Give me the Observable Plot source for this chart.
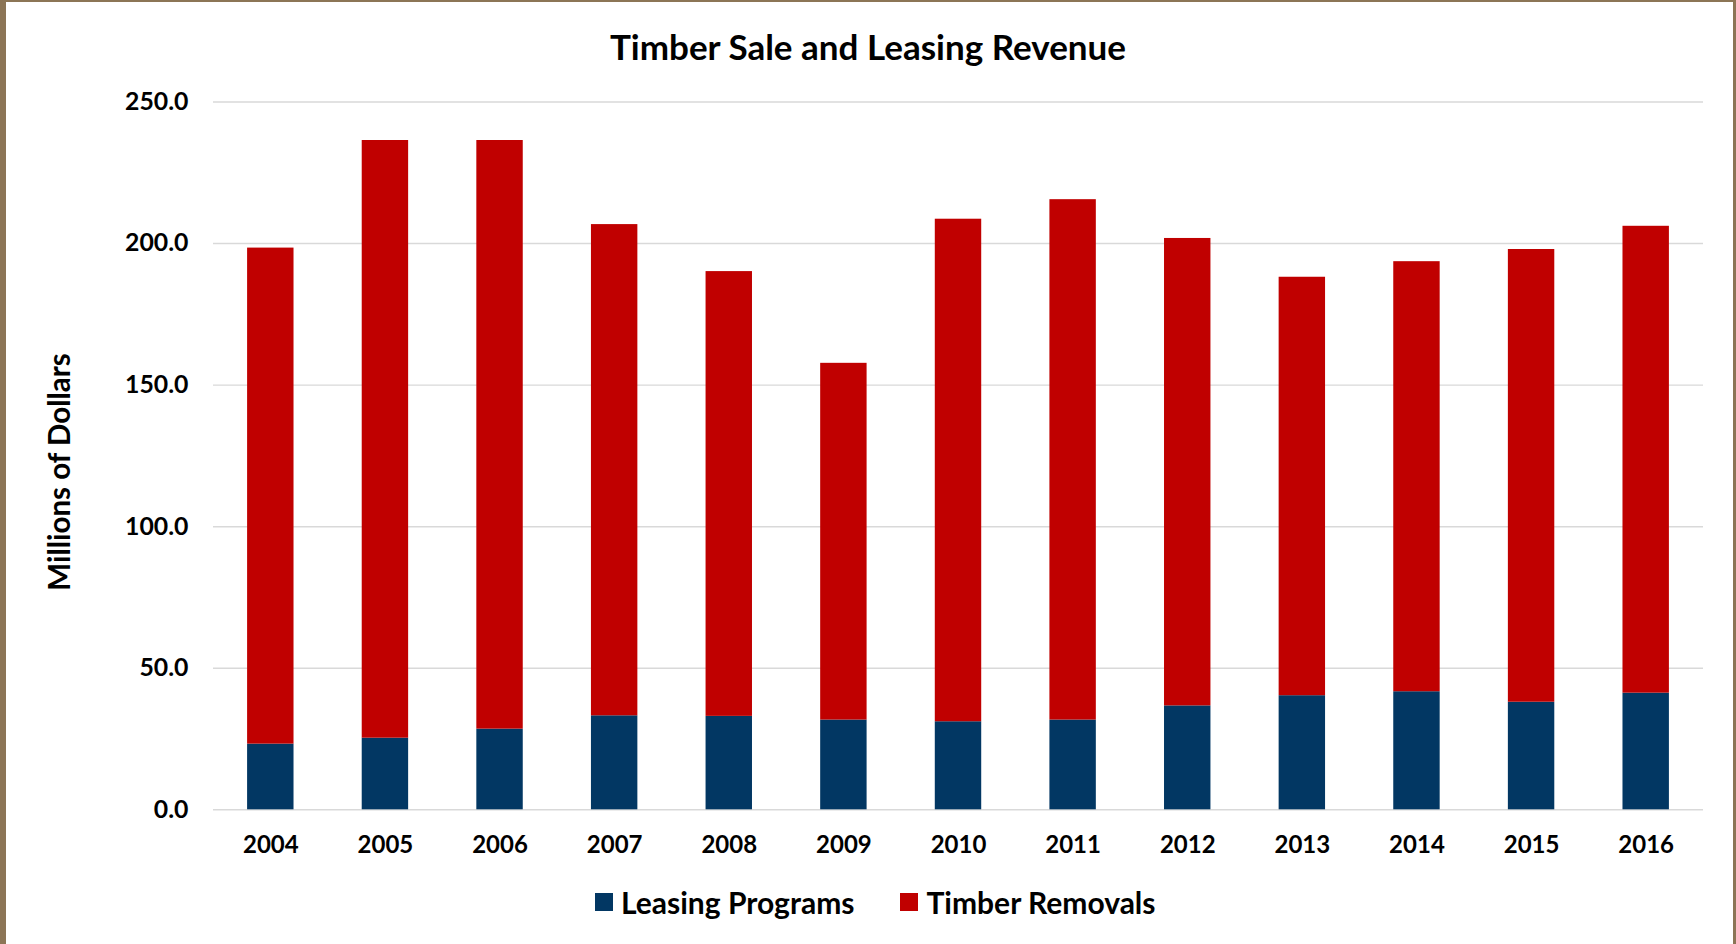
<!DOCTYPE html>
<html>
<head>
<meta charset="utf-8">
<script src="https://cdn.jsdelivr.net/npm/d3@7"></script>
<script src="https://cdn.jsdelivr.net/npm/@observablehq/plot@0.6"></script>
<style>
  html, body { margin: 0; padding: 0; background: #fff; }
  body { position: relative; width: 1736px; height: 944px; overflow: hidden; font-family: Lato, "Open Sans", sans-serif; font-weight: 700; color: #000; }
  #frame { position: absolute; left: 0; top: 0; width: 1736px; height: 944px; box-sizing: border-box;
           border-left: 6px solid #8C7556; border-top: 2px solid #8C7556; border-right: 3px solid #8C7556; pointer-events: none; z-index: 5; }
  #chart { position: absolute; left: 0; top: 0; }
  #title { position: absolute; left: 0; width: 1736px; top: 24px; text-align: center; font-size: 35px; line-height: 44px; }
  #ylabel { position: absolute; left: 57.6px; top: 472px; transform: translate(-50%, -50%) rotate(-90deg); white-space: nowrap; font-size: 29.5px; }
  #legend { position: absolute; top: 884px; left: 595px; display: flex; align-items: center; font-size: 30px; line-height: 36px; }
  .sw { width: 18px; height: 18px; display: inline-block; margin-right: 8px; }
  .item { display: flex; align-items: center; margin-right: 46px; }
</style>
</head>
<body>
<div id="title">Timber Sale and Leasing Revenue</div>
<div id="chart"></div>
<div id="ylabel">Millions of Dollars</div>
<div id="legend"></div>
<div id="frame"></div>
<script>
const years = ["2004","2005","2006","2007","2008","2009","2010","2011","2012","2013","2014","2015","2016"];
const leasingPrograms = [23.2, 25.3, 28.5, 33.2, 33.0, 31.7, 31.1, 31.7, 36.7, 40.3, 41.7, 38.0, 41.2];
const timberRemovals = [175.2, 211.1, 207.9, 173.5, 157.1, 126.0, 177.5, 183.8, 165.1, 147.8, 151.9, 159.9, 164.9];
const seriesNames = ["Leasing Programs", "Timber Removals"];
const seriesColors = ["#023763", "#C00000"];
const yTicks = [0, 50, 100, 150, 200, 250];

const data = years.flatMap((yr, i) => [
  {year: yr, series: seriesNames[0], value: leasingPrograms[i]},
  {year: yr, series: seriesNames[1], value: timberRemovals[i]}
]);

const H = 880;
const chart = Plot.plot({
  width: 1736,
  height: H,
  marginTop: 101.5,
  marginLeft: 213,
  marginRight: 33,
  marginBottom: H - 809.3,
  style: {fontFamily: "Lato, 'Open Sans', sans-serif", fontWeight: 700, color: "#000", background: "transparent"},
  x: {domain: years, paddingInner: 0.595, paddingOuter: 0.2975, round: false, label: null},
  y: {domain: [0, 250], label: null},
  color: {domain: seriesNames, range: seriesColors},
  marks: [
    Plot.gridY(yTicks, {stroke: "#D9D9D9", strokeOpacity: 1, strokeWidth: 1.4}),
    Plot.barY(data, Plot.stackY({x: "year", y: "value", fill: "series", order: seriesNames})),
    Plot.axisX({tickSize: 0, tickPadding: 26, fontSize: 24, fontWeight: 700, label: null}),
    Plot.axisY(yTicks, {tickSize: 0, tickPadding: 25, fontSize: 24.8, fontWeight: 700, tickFormat: d3.format(".1f"), label: null})
  ]
});
document.getElementById("chart").appendChild(chart);

const legend = document.getElementById("legend");
seriesNames.forEach((name, i) => {
  const item = document.createElement("div");
  item.className = "item";
  const sw = document.createElement("span");
  sw.className = "sw";
  sw.style.background = seriesColors[i];
  const t = document.createElement("span");
  t.textContent = name;
  item.appendChild(sw);
  item.appendChild(t);
  legend.appendChild(item);
});
</script>
</body>
</html>
